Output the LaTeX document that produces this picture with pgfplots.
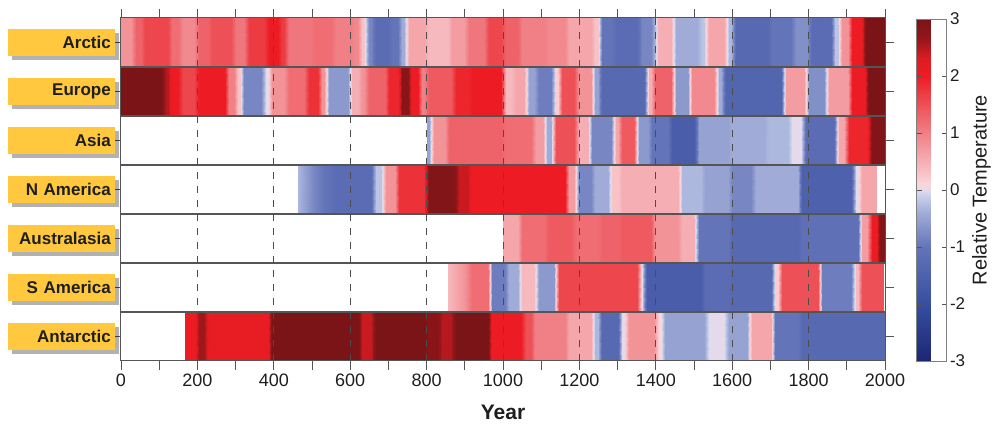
\documentclass[border=0pt]{standalone}
\usepackage{fontspec}
\setmainfont{Liberation Sans}
\usepackage{pgfplots}
\usepackage{pgfplotstable}
\pgfplotsset{compat=1.18}
\usetikzlibrary{shadows}
\definecolor{tagyellow}{RGB}{255,200,62}
\definecolor{framegray}{RGB}{85,85,85}
\definecolor{txt}{RGB}{30,30,30}

\pgfplotsset{colormap={temp}{
rgb255(0pt)=(28,38,115);
rgb255(20pt)=(55,78,160);
rgb255(40pt)=(100,116,185);
rgb255(52pt)=(160,172,215);
rgb255(58pt)=(200,208,235);
rgb255(60pt)=(228,218,236);
rgb255(62pt)=(249,214,218);
rgb255(70pt)=(245,175,180);
rgb255(80pt)=(240,128,134);
rgb255(90pt)=(237,80,86);
rgb255(100pt)=(237,28,36);
rgb255(106pt)=(222,28,34);
rgb255(113pt)=(150,22,26);
rgb255(120pt)=(122,20,22)}}

% Arctic
\pgfplotstableread{
x c
0 0.8
26 0.8
38 1.3
52 1.3
64 1.6
122 1.6
134 1.2
149 1.2
161 0.9
192 0.9
204 1.3
227 1.3
239 1.5
288 1.5
300 1.1
323 1.1
335 1.7
375 1.7
387 2.0
410 2.0
422 1.7
428 1.7
440 1.1
497 1.1
509 1.2
550 1.2
562 1.0
602 1.0
614 0.9
620 0.9
632 0.3
637 0.3
649 -0.8
655 -0.8
667 -1.2
698 -1.2
710 -1.0
724 -1.0
736 -0.4
742 -0.4
754 0.6
794 0.6
806 0.4
855 0.4
867 0.7
899 0.7
911 1.1
951 1.1
963 1.6
995 1.6
1007 1.3
1038 1.3
1050 1.0
1108 1.0
1120 0.9
1161 0.9
1173 0.6
1230 0.6
1242 0.3
1248 0.3
1260 -1.0
1283 -1.0
1295 -1.2
1352 -1.2
1364 -0.8
1387 -0.8
1397 -0.3
1407 0.5
1440 0.5
1452 -0.4
1509 -0.4
1521 -0.2
1527 -0.2
1539 0.6
1579 0.6
1591 -0.3
1597 -0.3
1609 -1.3
1693 -1.3
1705 -1.0
1754 -1.0
1766 -0.7
1797 -0.7
1809 -1.2
1858 -1.2
1870 -0.2
1876 -0.2
1888 0.8
1902 0.8
1914 2.0
1937 2.0
1949 3.0
2000 3.0
}\tArctic
% Europe
\pgfplotstableread{
x c
0 3.0
105 3.0
117 2.5
122 2.5
134 2.0
149 2.0
161 1.6
192 1.6
204 2.0
271 2.0
283 1.0
297 1.0
307 0.3
312 0.3
322 -0.8
367 -0.8
379 0.0
384 0.0
396 0.8
428 0.8
440 1.2
480 1.2
492 1.8
515 1.8
527 0.8
532 0.8
544 -0.6
594 -0.6
606 0.5
620 0.5
632 0.8
637 0.8
649 1.3
690 1.3
702 1.9
724 1.9
736 2.8
751 2.8
763 2.0
777 2.0
789 1.0
794 1.0
806 1.4
864 1.4
876 1.9
908 1.9
920 2.0
995 2.0
1007 0.4
1021 0.4
1033 0.6
1056 0.6
1068 -0.5
1082 -0.5
1094 -0.9
1126 -0.9
1138 0.2
1143 0.2
1155 1.5
1187 1.5
1199 0.8
1230 0.8
1242 -0.5
1248 -0.5
1260 -1.3
1370 -1.3
1382 0.5
1387 0.5
1399 1.3
1440 1.3
1452 -0.6
1483 -0.6
1495 0.9
1553 0.9
1565 -0.4
1571 -0.4
1583 -1.4
1728 -1.4
1740 0.7
1789 0.7
1801 -0.7
1841 -0.7
1853 0.7
1902 0.7
1914 2.0
1946 2.0
1958 3.0
2000 3.0
}\tEurope
% Asia
\pgfplotstableread{
x c
800 -0.5
807 -0.5
819 0.8
847 0.8
859 1.3
995 1.3
1007 1.2
1074 1.2
1086 0.7
1104 0.7
1116 -0.4
1126 -0.4
1138 1.5
1187 1.5
1199 0.5
1222 0.5
1234 -0.8
1283 -0.8
1295 0.6
1300 0.6
1312 1.4
1344 1.4
1356 -0.6
1379 -0.6
1391 -1.0
1431 -1.0
1443 -1.6
1501 -1.6
1513 -0.5
1588 -0.5
1600 -0.4
1684 -0.4
1696 -0.3
1745 -0.3
1757 0.0
1780 0.0
1792 -1.2
1867 -1.2
1879 0.6
1893 0.6
1905 1.9
1954 1.9
1966 2.9
2000 2.9
}\tAsia
% N America
\pgfplotstableread{
x c
464 -0.3
504 -0.8
560 -1.2
655 -1.2
667 -0.2
681 -0.2
693 0.8
716 0.8
728 1.8
794 1.8
806 2.9
873 2.9
885 2.4
908 2.4
920 2.0
1161 2.0
1173 0.7
1187 0.7
1199 -0.8
1230 -0.8
1242 -0.4
1274 -0.4
1286 0.3
1300 0.3
1312 0.5
1457 0.5
1469 -0.3
1518 -0.3
1530 -0.5
1588 -0.5
1600 -0.8
1649 -0.8
1661 -0.4
1771 -0.4
1783 -1.5
1911 -1.5
1923 0.0
1928 0.0
1940 0.6
1978 0.6
}\tNAmerica
% Australasia
\pgfplotstableread{
x c
1001 0.6
1038 0.6
1050 1.2
1108 1.2
1120 1.4
1178 1.4
1190 1.2
1248 1.2
1260 1.3
1300 1.3
1312 1.4
1387 1.4
1399 0.8
1457 0.8
1469 0.5
1501 0.5
1513 -1.0
1588 -1.0
1600 -1.3
1771 -1.3
1783 -1.1
1928 -1.1
1940 0.7
1954 0.7
1966 2.0
1976 2.0
1988 2.9
2000 2.9
}\tAustralasia
% S America
\pgfplotstableread{
x c
857 0.4
900 0.8
920 1.2
960 1.2
972 -0.9
1004 -0.9
1016 -0.4
1038 -0.4
1050 0.4
1082 0.4
1094 -0.6
1134 -0.6
1146 1.6
1352 1.6
1364.5 0.0
1377 -1.6
1518 -1.6
1530 -1.2
1588 -1.2
1600 -1.3
1701 -1.3
1713 0.2
1719 0.2
1731 1.5
1824 1.5
1836 -0.9
1911 -0.9
1923 0.4
1928 0.4
1940 1.5
1995 1.5
}\tSAmerica
% Antarctic
\pgfplotstableread{
x c
168 2.0
192 2.0
204 2.6
218 2.6
230 2.1
384 2.1
396 3.0
620 3.0
632 2.4
655 2.4
667 3.0
794 3.0
806 2.8
829 2.8
841 2.5
864 2.5
876 3.0
960 3.0
972 2.0
1047 2.0
1059 1.5
1073 1.5
1085 1.0
1161 1.0
1173 0.6
1230 0.6
1242 -0.3
1248 -0.3
1260 -1.3
1300 -1.3
1312 0.0
1317 0.0
1329 0.8
1396 0.8
1408 0.1
1413 0.1
1425 -0.5
1527 -0.5
1539 0.0
1579 0.0
1591 -0.5
1640 -0.5
1652 0.6
1701 0.6
1713 -1.0
1771 -1.0
1783 -1.3
2000 -1.3
}\tAntarctic

% duplicate each table (lower and upper edge of the strip)
\newcommand\prep[2]{%
  \pgfplotstablegetrowsof{#1}\expandafter\edef\csname #2\endcsname{\pgfplotsretval}%
  \pgfplotstablevertcat{#1}{#1}}
\prep{\tArctic}{nArctic}
\prep{\tEurope}{nEurope}
\prep{\tAsia}{nAsia}
\prep{\tNAmerica}{nNAmerica}
\prep{\tAustralasia}{nAustralasia}
\prep{\tSAmerica}{nSAmerica}
\prep{\tAntarctic}{nAntarctic}

\newcommand\rowplot[3]{%
  \addplot[surf, shader=interp, mesh/rows=2, point meta=explicit]
    table[x=x, y expr={#3-0.5+(\coordindex>=#2)}, meta=c] {#1};}

\begin{document}
\begin{tikzpicture}
\useasboundingbox (-121pt,-69pt) rectangle (879pt,361pt);
\begin{axis}[
  scale only axis, width=764pt, height=343pt,
  at={(0pt,0pt)}, anchor=south west,
  xmin=0, xmax=2000, ymin=-0.5, ymax=6.5,
  colormap name=temp,
  point meta min=-3, point meta max=3,
  axis on top,
  axis line style={draw=framegray, line width=1pt},
  tick align=outside,
  major tick length=9pt, minor tick length=0pt,
  tick style={draw=framegray, line width=0.8pt},
  xtick={0,100,...,2000},
  xticklabels={0,,200,,400,,600,,800,,1000,,1200,,1400,,1600,,1800,,2000},
  xticklabel style={font=\fontsize{18}{20}\selectfont, text=txt},
  extra x ticks={200,400,...,1800},
  extra x tick labels={},
  extra x tick style={grid=major},
  x grid style={dash pattern=on 7pt off 7pt, draw=black!70, line width=0.9pt},
  ytick={0,...,6},
  yticklabels={Antarctic,S America,Australasia,N America,Asia,Europe,Arctic},
  yticklabel pos=left,
  yticklabel style={font=\bfseries\fontsize{17}{19}\selectfont, text=txt,
    fill=tagyellow, anchor=east, inner xsep=4pt, inner ysep=0pt, xshift=3pt,
    text width=99pt, align=right, minimum height=27pt,
    drop shadow={shadow xshift=4pt, shadow yshift=-4pt, fill=black, opacity=0.3}},
  minor ytick={0.5,1.5,...,5.5},
  yminorgrids=true,
  minor y grid style={solid, draw=framegray, line width=1.2pt},
  xlabel={Year},
  xlabel shift=-6pt,
  xlabel style={font=\bfseries\fontsize{21}{23}\selectfont, text=txt},
  colorbar,
  colorbar style={
    scale only axis, width=30pt, height=342pt,
    at={(parent axis.north east)}, anchor=north west, xshift=23pt, yshift=-1pt,
    ytick={-3,-2,...,3},
    yticklabels={-3,-2,-1,0,1,2,3},
    ytick pos=both, yticklabel pos=right,
    tick align=inside, major tick length=5pt,
    ytick style={draw=framegray, line width=0.6pt},
    axis line style={draw=gray, line width=0.6pt},
    yticklabel style={font=\fontsize{17}{19}\selectfont, text=txt},
    ylabel={Relative Temperature},
    ylabel shift=0pt,
    ylabel style={font=\fontsize{20}{22}\selectfont, text=txt},
  },
]
\rowplot{\tArctic}{\nArctic}{6}
\rowplot{\tEurope}{\nEurope}{5}
\rowplot{\tAsia}{\nAsia}{4}
\rowplot{\tNAmerica}{\nNAmerica}{3}
\rowplot{\tAustralasia}{\nAustralasia}{2}
\rowplot{\tSAmerica}{\nSAmerica}{1}
\rowplot{\tAntarctic}{\nAntarctic}{0}
\end{axis}
\end{tikzpicture}
\end{document}
